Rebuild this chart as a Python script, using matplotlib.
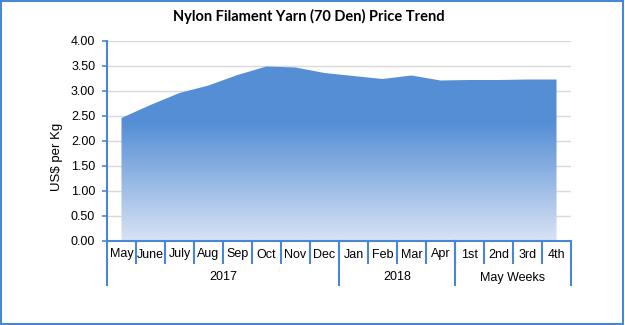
import numpy as np
import matplotlib.pyplot as plt
from matplotlib.colors import LinearSegmentedColormap
from matplotlib.patches import Rectangle

months = ['May', 'June', 'July', 'Aug', 'Sep', 'Oct', 'Nov', 'Dec',
          'Jan', 'Feb', 'Mar', 'Apr', '1st', '2nd', '3rd', '4th']
groups = ['2017', '2018', 'May Weeks']
group_sizes = [8, 4, 4]
prices = [2.45, 2.71, 2.95, 3.10, 3.31, 3.48, 3.46, 3.35,
          3.29, 3.23, 3.30, 3.20, 3.21, 3.21, 3.22, 3.22]
yticks = [0, 0.5, 1.0, 1.5, 2.0, 2.5, 3.0, 3.5, 4.0]

axis_blue = '#4A86D6'
font = 'Liberation Sans'
x = np.arange(len(months))

fig = plt.figure(figsize=(6.25, 3.25), dpi=100)
fig.patch.set_facecolor('white')
ax = fig.add_axes([107 / 625, 1 - 240.5 / 325, 464 / 625, 200 / 325])

# area with a vertical gradient clipped to the filled polygon
poly = ax.fill_between(x, prices, 0, color='none', lw=0)
cmap = LinearSegmentedColormap.from_list(
    'grad', [(0, '#D8E2F4'), (2.35 / 4, '#558ED5'), (1, '#558ED5')])
grad = np.linspace(0, 1, 256).reshape(-1, 1)
img = ax.imshow(grad, cmap=cmap, aspect='auto', origin='lower',
                extent=(-0.5, 15.5, 0, 4), zorder=2)
img.set_clip_path(poly.get_paths()[0], transform=ax.transData)

ax.set_xlim(-0.5, 15.5)
ax.set_ylim(0, 4)
ax.set_yticks(yticks)
ax.set_yticklabels([f'{v:.2f}' for v in yticks], fontsize=9, family=font)
ax.yaxis.grid(True, color='#D9D9D9', lw=1)
ax.set_axisbelow(True)
ax.tick_params(axis='y', length=3.5, width=1.2, color=axis_blue, pad=5)
ax.set_xticks([])

for s in ['top', 'right']:
    ax.spines[s].set_visible(False)
ax.spines['left'].set_color(axis_blue)
ax.spines['left'].set_linewidth(1.5)
ax.spines['bottom'].set_color(axis_blue)
ax.spines['bottom'].set_linewidth(1.5)
ax.spines['bottom'].set_zorder(3)

ax.set_ylabel('US$ per Kg', fontsize=9.5, family=font)
ax.yaxis.set_label_coords(-0.095, 0.42)

# two-level category axis
tr = ax.get_xaxis_transform()
for i in range(1, len(months)):
    ax.plot([i - 0.5, i - 0.5], [0, -0.112], transform=tr, color=axis_blue,
            lw=1.5, clip_on=False)
for i, m in enumerate(months):
    ax.text(i, -0.07, m, transform=tr, ha='center', va='center', fontsize=9,
            family=font)

edges = np.concatenate([[0], np.cumsum(group_sizes)]) - 0.5
for e in edges:
    ax.plot([e, e], [0, -0.222], transform=tr, color=axis_blue, lw=1.5,
            clip_on=False)
for g, a, b in zip(groups, edges[:-1], edges[1:]):
    ax.text((a + b) / 2, -0.185, g, transform=tr, ha='center', va='center',
            fontsize=9, family=font)

fig.text(309 / 625, 1 - 16 / 325, 'Nylon Filament Yarn (70 Den) Price Trend',
         ha='center', va='center', fontsize=10.5, fontweight='bold',
         family='Lato')

# chart border
fig.patches.append(Rectangle((0.001, 0.002), 0.996, 0.995,
                             transform=fig.transFigure, fill=False,
                             edgecolor='#4A86D6', lw=1.5))

fig.savefig('out.png', dpi=100)
